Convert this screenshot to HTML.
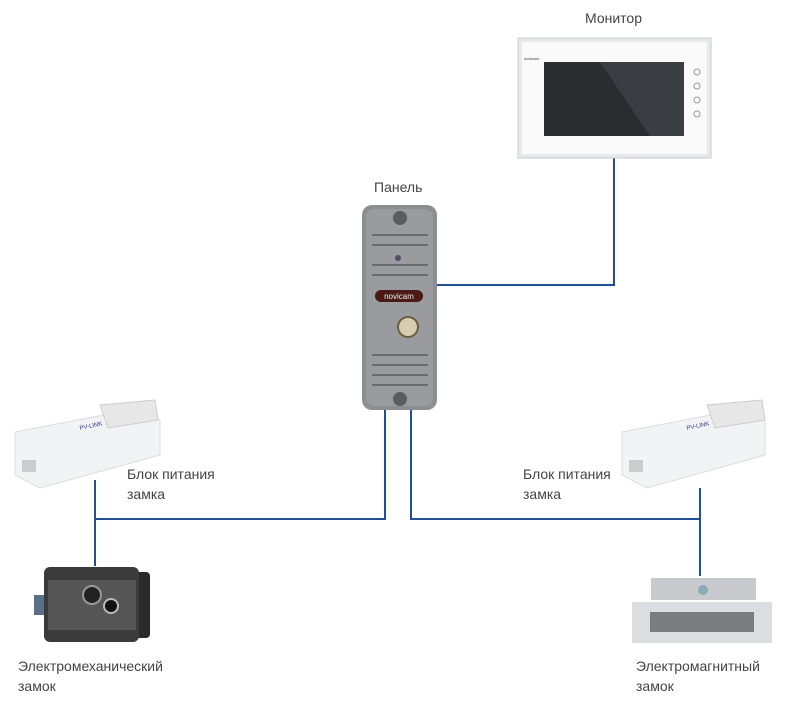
<!DOCTYPE html>
<html><head><meta charset="utf-8"><style>
body{margin:0;width:787px;height:708px;background:#fff;position:relative;overflow:hidden;font-family:"Liberation Sans Narrow","Liberation Sans",sans-serif;}
.t{position:absolute;font-size:14px;color:#444;line-height:20px;}
.l{position:absolute;background:#1f5192;}
</style></head><body>
<div class="t" style="left:585px;top:8px">Монитор</div>
<div class="t" style="left:374px;top:177px">Панель</div>
<div class="t" style="left:127px;top:464px">Блок питания<br>замка</div>
<div class="t" style="left:523px;top:464px">Блок питания<br>замка</div>
<div class="t" style="left:18px;top:656px">Электромеханический<br>замок</div>
<div class="t" style="left:636px;top:656px">Электромагнитный<br>замок</div>

<div class="l" style="left:613px;top:158px;width:2px;height:128px"></div>
<div class="l" style="left:435px;top:284px;width:180px;height:2px"></div>
<div class="l" style="left:384px;top:410px;width:2px;height:110px"></div>
<div class="l" style="left:410px;top:410px;width:2px;height:110px"></div>
<div class="l" style="left:95px;top:518px;width:291px;height:2px"></div>
<div class="l" style="left:410px;top:518px;width:291px;height:2px"></div>
<div class="l" style="left:94px;top:480px;width:2px;height:86px"></div>
<div class="l" style="left:699px;top:488px;width:2px;height:88px"></div>

<svg width="787" height="708" style="position:absolute;left:0;top:0">
<!-- monitor -->
<rect x="518" y="38" width="193" height="120" fill="#e8e9ec" stroke="#c9cbcf"/>
<rect x="522" y="42" width="185" height="112" fill="#fafafa"/>
<rect x="544" y="62" width="140" height="74" fill="#2a2c30"/>
<polygon points="600,62 684,62 684,136 650,136" fill="#3a3d42"/>
<g fill="none" stroke="#999"><circle cx="697" cy="72" r="3"/><circle cx="697" cy="86" r="3"/><circle cx="697" cy="100" r="3"/><circle cx="697" cy="114" r="3"/></g>
<text x="524" y="60" font-size="4" fill="#333">novicam</text>
<!-- panel -->
<rect x="362" y="205" width="75" height="205" rx="10" fill="#8d8e91"/>
<rect x="366" y="209" width="67" height="197" rx="8" fill="#9a9b9e"/>
<circle cx="400" cy="218" r="7" fill="#5b5c5f"/>
<circle cx="400" cy="399" r="7" fill="#5b5c5f"/>
<g stroke="#6a6b6e" stroke-width="2"><line x1="372" y1="235" x2="428" y2="235"/><line x1="372" y1="245" x2="428" y2="245"/><line x1="372" y1="265" x2="428" y2="265"/><line x1="372" y1="275" x2="428" y2="275"/><line x1="372" y1="355" x2="428" y2="355"/><line x1="372" y1="365" x2="428" y2="365"/><line x1="372" y1="375" x2="428" y2="375"/><line x1="372" y1="385" x2="428" y2="385"/></g>
<rect x="375" y="290" width="48" height="12" rx="6" fill="#4a1a14"/>
<text x="399" y="299" font-size="8" fill="#eee" text-anchor="middle" font-family="Liberation Sans">novicam</text>
<circle cx="408" cy="327" r="10" fill="#d8ccae" stroke="#6b5d40" stroke-width="2"/>
<circle cx="398" cy="258" r="3" fill="#5a4a6a"/>
<!-- PSU left -->
<polygon points="15,432 140,408 160,420 160,455 40,488 15,475" fill="#f2f3f5" stroke="#ddd"/>
<polygon points="100,405 155,400 158,420 108,428" fill="#e7e7e7" stroke="#ccc"/>
<rect x="22" y="460" width="14" height="12" fill="#ccc"/>
<text x="80" y="430" font-size="6" fill="#2a3a8a" transform="rotate(-12 80 430)">PV-LINK</text>
<!-- PSU right -->
<polygon points="622,432 747,408 765,420 765,455 647,488 622,475" fill="#f2f3f5" stroke="#ddd"/>
<polygon points="707,405 762,400 765,420 715,428" fill="#e7e7e7" stroke="#ccc"/>
<rect x="629" y="460" width="14" height="12" fill="#ccc"/>
<text x="687" y="430" font-size="6" fill="#2a3a8a" transform="rotate(-12 687 430)">PV-LINK</text>
<!-- el-mech lock -->
<rect x="34" y="595" width="12" height="20" fill="#5a6f88"/>
<rect x="135" y="572" width="15" height="66" rx="4" fill="#2a2a2a"/>
<rect x="44" y="567" width="95" height="75" rx="6" fill="#3b3b3c"/>
<rect x="48" y="580" width="88" height="50" fill="#555"/>
<circle cx="92" cy="595" r="9" fill="#222" stroke="#999" stroke-width="2"/>
<circle cx="111" cy="606" r="7" fill="#111" stroke="#bbb" stroke-width="2"/>
<!-- mag lock -->
<rect x="651" y="578" width="105" height="22" fill="#c9cacd"/>
<circle cx="703" cy="590" r="5" fill="#8ab"/>
<rect x="632" y="602" width="140" height="41" fill="#dcdde0"/>
<rect x="650" y="612" width="104" height="20" fill="#7b7c80"/>
</svg>
</body></html>
